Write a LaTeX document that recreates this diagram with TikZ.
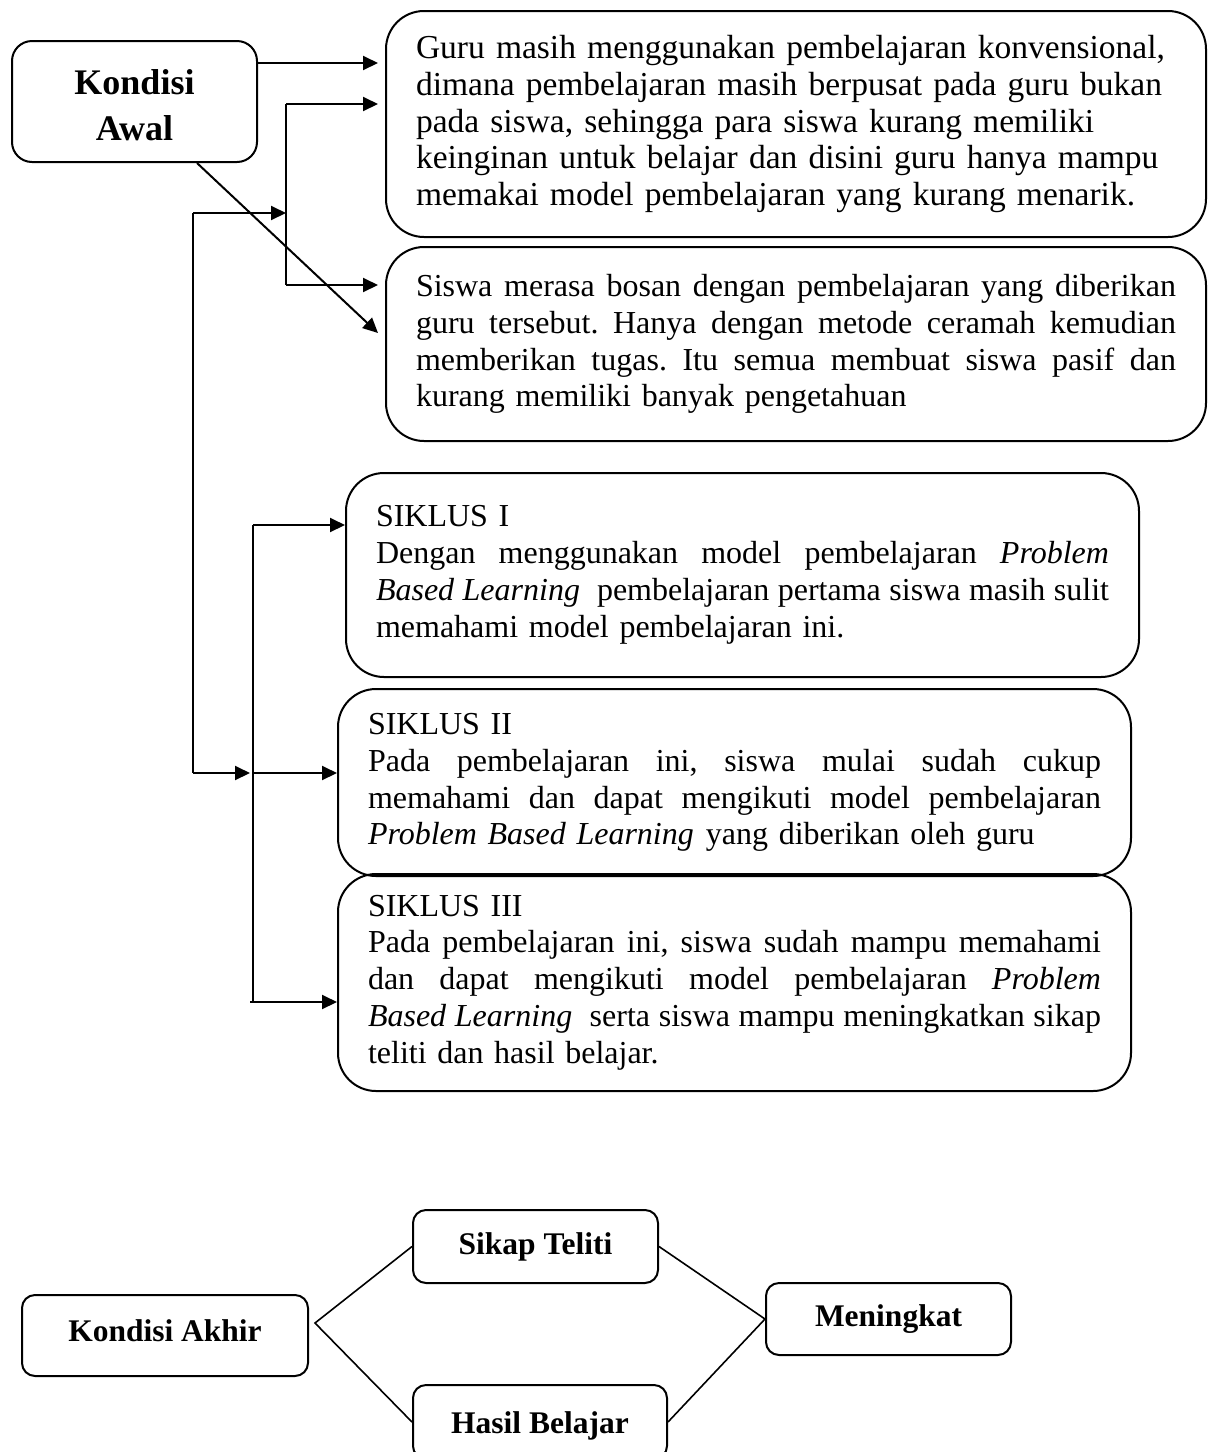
\documentclass[tikz,border=0pt]{standalone}
\usepackage{fontspec}
\setmainfont{Liberation Serif}
\usetikzlibrary{arrows.meta}
\tikzset{
  arr/.style={line width=2pt, -{Triangle[length=15pt,width=14pt]}},
  ln/.style={line width=2pt},
  thinln/.style={line width=1.6pt},
  bigbox/.style={draw, line width=2pt, rounded corners=38pt, anchor=north west,
    inner xsep=30pt, inner ysep=0pt, font=\fontsize{32}{36.8}\selectfont\frenchspacing},
  lbl/.style={draw, line width=2pt, rounded corners=13pt, inner sep=0pt,
    font=\fontsize{31.5}{36}\selectfont\bfseries, align=center},
}
\newcommand{\jl}[1]{\leavevmode\hbox to \hsize{\spaceskip=0.25em plus 1fil\relax\xspaceskip=0.25em plus 1fil\relax #1}}
\begin{document}
\begin{tikzpicture}[x=1pt,y=-1pt]
\useasboundingbox (0,0) rectangle (1212,1452);

% top boxes
\node[draw, line width=2pt, rounded corners=20pt, minimum width=245pt, minimum height=121pt,
  align=center, font=\fontsize{36}{46}\selectfont\bfseries] (ka) at (134.5,101.5) {\rule{0pt}{33pt}Kondisi\\[0pt]Awal};

\node[bigbox, text width=760pt, minimum width=820pt, minimum height=226pt,
  font=\fontsize{33.5}{36.8}\selectfont\frenchspacing] (b1) at (385,10) {%
\mbox{Guru masih menggunakan pembelajaran konvensional,}\\
\mbox{dimana pembelajaran masih berpusat pada guru bukan}\\
\mbox{pada siswa, sehingga para siswa kurang memiliki}\\
\mbox{keinginan untuk belajar dan disini guru hanya mampu}\\
\mbox{memakai model pembelajaran yang kurang menarik.}};

\node[bigbox, text width=760pt, minimum width=820pt, minimum height=194pt] (b2) at (385,246) {%
\jl{Siswa merasa bosan dengan pembelajaran yang diberikan}\\
\jl{guru tersebut. Hanya dengan metode ceramah kemudian}\\
\jl{memberikan tugas. Itu semua membuat siswa pasif dan}\\
kurang memiliki banyak pengetahuan};

\node[bigbox, text width=733pt, minimum width=793pt, minimum height=204pt] (s1) at (345,472) {%
SIKLUS I\\
\jl{Dengan menggunakan model pembelajaran \textit{Problem}}\\
\jl{\textit{Based Learning}~ pembelajaran pertama siswa masih sulit}\\
memahami model pembelajaran ini.};

\node[bigbox, text width=733pt, minimum width=793pt, minimum height=187pt] (s2) at (337,688) {%
SIKLUS II\\
\jl{Pada pembelajaran ini, siswa mulai sudah cukup}\\
\jl{memahami dan dapat mengikuti model pembelajaran}\\
\textit{Problem Based Learning}\hspace{12pt}yang diberikan oleh guru};

\node[bigbox, text width=733pt, minimum width=793pt, minimum height=217pt] (s3) at (337,873) {%
SIKLUS III\\
\jl{Pada pembelajaran ini, siswa sudah mampu memahami}\\
\jl{dan dapat mengikuti model pembelajaran \textit{Problem}}\\
\jl{\textit{Based Learning}~ serta siswa mampu meningkatkan sikap}\\
teliti dan hasil belajar.};

% top connectors
\coordinate (ya) at (0,63);
\coordinate (j1) at (286,104);
\coordinate (j2) at (286,285);
\coordinate (o1) at (193,213);
\coordinate (o2) at (193,773);
\coordinate (i1) at (253,525);
\coordinate (i2) at (253,1002);
\coordinate (d1) at (378,333);

\draw[arr, shorten >=7pt] (ka.east |- ya) -- (b1.west |- ya);
\draw[ln] (j1) -- (j2);
\draw[arr, shorten >=7pt] (j1) -- (b1.west |- j1);
\draw[arr, shorten >=7pt] (j2) -- (b2.west |- j2);
\draw[ln] (o1) -- (o2);
\draw[arr] (o1) -- (j1 |- o1);
\draw[arr] ([xshift=62.5pt]ka.south) -- (d1);
\draw[ln] (i1) -- (i2);
\draw[arr] (i1) -- (s1.west |- i1);
\draw[arr, shorten >=3pt] (o2) -- (i1 |- o2);
\draw[arr] (i1 |- o2) -- (s2.west |- o2);
\draw[arr] ([xshift=-3pt]i2) -- (s3.west |- i2);

% bottom part
\node[lbl, minimum width=286pt, minimum height=81pt, text height=22pt, text depth=11pt] (kak) at (165,1335.5) {Kondisi Akhir};
\node[lbl, minimum width=245pt, minimum height=73pt] (st) at (535.5,1246.5) {Sikap Teliti};
\node[lbl, minimum width=245pt, minimum height=72pt] (mk) at (888.5,1319) {Meningkat};
\node[lbl, minimum width=254pt, minimum height=74pt, text height=22pt, text depth=0pt] (hb) at (540,1422) {Hasil Belajar};

\coordinate (v1) at (315,1323);
\draw[thinln] (st.west) -- (v1) -- (hb.west);
\draw[thinln] (st.east) -- (mk.west) -- (hb.east);
\end{tikzpicture}
\end{document}
